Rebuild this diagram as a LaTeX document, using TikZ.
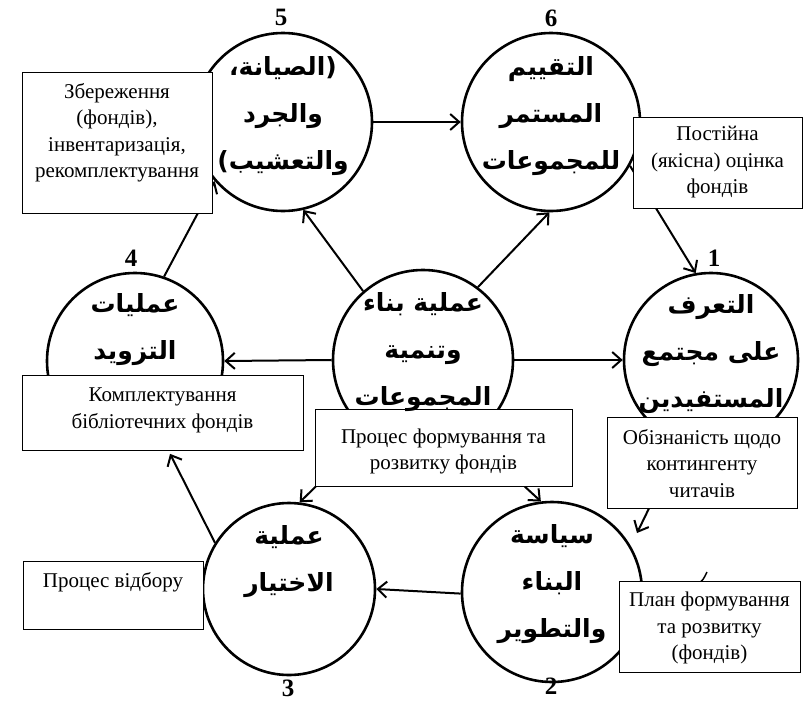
\documentclass[tikz,border=0pt]{standalone}
\usepackage{fontspec}
\setmainfont{Liberation Serif}
\newfontfamily\arabicfont[Script=Arabic]{DejaVu Sans}
\TeXXeTstate=1
\usetikzlibrary{arrows.meta}
\newcommand{\arl}[1]{\beginR #1\endR}
\begin{document}
\begin{tikzpicture}[x=1pt,y=-1pt,
  circ/.style={circle, draw, line width=2.6pt, inner sep=0pt},
  arr/.style={line width=2pt, -{Straight Barb[length=9pt,width=16pt]}},
  box/.style={draw, line width=1pt, fill=white, inner sep=0pt},
  btext/.style={font=\fontsize{21}{26.5}\selectfont, align=center, inner sep=0pt},
  atext/.style={font=\arabicfont\bfseries\fontsize{25}{47}\selectfont, align=center, inner sep=0pt},
  num/.style={font=\bfseries\fontsize{25}{25}\selectfont, inner sep=0pt}]
\useasboundingbox (0,0) rectangle (810,704);
% circles
\node[circ, minimum size=178pt] (c5) at (283,122) {};
\node[circ, minimum size=178pt] (c6) at (551,122) {};
\node[circ, minimum size=174pt] (c1) at (711,360) {};
\node[circ, minimum size=180pt] (c0) at (423,360) {};
\node[circ, minimum size=176pt] (c4) at (135,361) {};
\node[circ, minimum size=180pt] (c2) at (552,592) {};
\node[circ, minimum size=172pt] (c3) at (289,589) {};
% arrows
\draw[arr] (c0.131) -- (c5.283);
\draw[arr] (c0.53) -- (c6.269);
\draw[arr] (c0.0) -- (c1.180);
\draw[arr] (c0.180) -- (c4.0);
\draw[arr] (c0.234) -- (c3.83);
\draw[arr] (c0.302) -- (c2.97);
\draw[arr] (c5.0) -- (c6.180);
\draw[arr] (c6.331) -- (c1.100);
\coordinate (tip12) at (637,533);
\draw[arr] (c1.250) -- (tip12);
\draw[arr] (c2.181) -- (c3.0);
\draw[arr, shorten >=10pt] (c3.148) -- (c4.290);
\draw[arr] (c4.71) -- (c5.221);
\draw[line width=1.5pt] (699,583) .. controls (703,580) .. (707,572);
% boxes
\node[box, minimum width=190pt, minimum height=141pt] (b5) at (117,142.5) {};
\node[box, minimum width=169pt, minimum height=91pt] (b6) at (717.5,162.5) {};
\node[box, minimum width=190pt, minimum height=91pt] (b1) at (702,462.5) {};
\node[box, minimum width=181pt, minimum height=91pt] (b2) at (709.5,626.5) {};
\node[box, minimum width=180pt, minimum height=68pt] (b3) at (113,595) {};
\node[box, minimum width=281pt, minimum height=75pt] (b4) at (162.5,412.5) {};
\node[box, minimum width=257pt, minimum height=77pt] (b0) at (443.5,447.5) {};
% box texts
\node[btext] (b5t) at (117,132.5) {Збереження\\(фондів),\\інвентаризація,\\рекомплектування};
\node[btext] (b6t) at (717.5,162.5) {Постійна\\(якісна) оцінка\\фондів};
\node[btext] (b1t) at (702,463.5) {Обізнаність щодо\\контингенту\\читачів};
\node[btext] (b2t) at (709.5,628) {План формування\\та розвитку\\(фондів)};
\node[btext] (b3t) at (113,582) {Процес відбору};
\node[btext] (b4t) at (162.5,410.5) {Комплектування\\бібліотечних фондів};
\node[btext] (b0t) at (443.5,451.5) {Процес формування та\\розвитку фондів};
% circle texts
\node[atext] (t5) at (283,116) {\arl{(الصيانة،}\\\arl{والجرد}\\\arl{والتعشيب)}};
\node[atext] (t6) at (551,116) {\arl{التقييم}\\\arl{المستمر}\\\arl{للمجموعات}};
\node[atext] (t1) at (711,354) {\arl{التعرف}\\\arl{على مجتمع}\\\arl{المستفيدين}};
\node[atext] (t0) at (423,352) {\arl{عملية بناء}\\\arl{وتنمية}\\\arl{المجموعات}};
\node[atext] (t4) at (135,330) {\arl{عمليات}\\\arl{التزويد}};
\node[atext] (t2) at (552,584) {\arl{سياسة}\\\arl{البناء}\\\arl{والتطوير}};
\node[atext] (t3) at (289,562) {\arl{عملية}\\\arl{الاختيار}};
% numbers
\node[num] (n5) at (281,17) {5};
\node[num] (n6) at (551,18) {6};
\node[num] (n1) at (714,258) {1};
\node[num] (n4) at (131,258) {4};
\node[num] (n3) at (288,688) {3};
\node[num] (n2) at (551,686) {2};
\end{tikzpicture}
\end{document}
